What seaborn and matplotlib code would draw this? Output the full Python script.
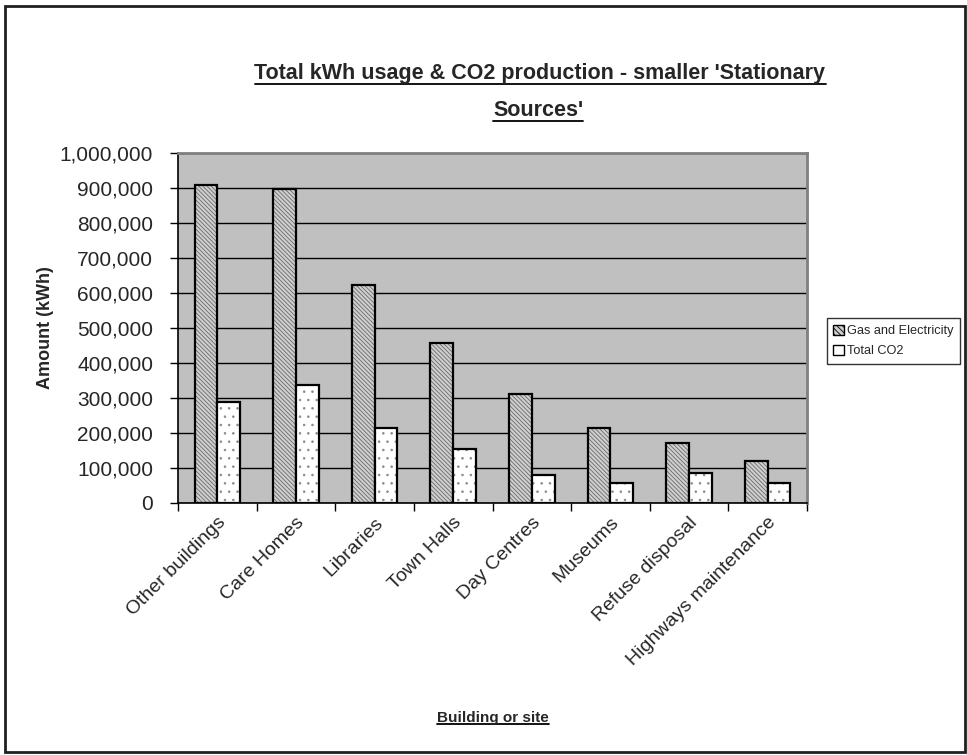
"""Total kWh usage & CO2 production for the smaller stationary sources."""
import matplotlib
matplotlib.use("Agg")
import matplotlib.pyplot as plt
import matplotlib.ticker as mticker
from matplotlib.lines import Line2D
from matplotlib.patches import Patch, Rectangle
import matplotlib.colors as mcolors
import pandas as pd
import seaborn as sns

# --- data ---
sites = [
    "Other buildings", "Care Homes", "Libraries", "Town Halls",
    "Day Centres", "Museums", "Refuse disposal", "Highways maintenance",
]
gas_and_electricity = [909000, 897000, 623000, 456000, 311000, 214000, 171000, 120000]
total_co2 = [290000, 337000, 215000, 155000, 80000, 57000, 86000, 57000]
series_names = ["Gas and Electricity", "Total CO2"]

df = pd.DataFrame({
    "site": sites * 2,
    "series": [series_names[0]] * len(sites) + [series_names[1]] * len(sites),
    "amount": gas_and_electricity + total_co2,
})

sns.set_theme(style="white")
plt.rcParams["font.family"] = ["Liberation Sans", "DejaVu Sans"]
plt.rcParams["hatch.linewidth"] = 0.6

W, H = 967, 755
fig = plt.figure(figsize=(W / 100, H / 100), dpi=100)
ax = fig.add_axes([178 / W, 1 - 503 / H, (807 - 178) / W, (503 - 153) / H])
ax.set_facecolor("#c0c0c0")

face = {series_names[0]: "#cfcfcf", series_names[1]: "#ffffff"}
sns.barplot(
    data=df, x="site", y="amount", hue="series", hue_order=series_names,
    order=sites, palette=face, width=0.58, saturation=1, legend=False,
    edgecolor="black", linewidth=1.6, ax=ax, zorder=3,
)

# hatch patterns: fine diagonal on gas/electric, sparse dots on CO2
hatches = ["\\\\\\\\\\\\\\\\", ".."]
hatch_cols = ["#6a6a6a", "#8a8a8a"]
for cont, h, hc in zip(ax.containers, hatches, hatch_cols):
    for p in cont:
        p.set_hatch(h)
        p._hatch_color = mcolors.to_rgba(hc)

# axes styling
ax.set_ylim(0, 1000000)
ax.set_xlim(-0.5, len(sites) - 0.5)
ax.yaxis.set_major_locator(mticker.MultipleLocator(100000))
ax.yaxis.set_major_formatter(mticker.StrMethodFormatter("{x:,.0f}"))
ax.grid(axis="y", color="black", linewidth=1.0, zorder=1)
ax.set_axisbelow(True)
ax.tick_params(axis="y", which="major", direction="out", length=6, width=1,
               color="black", labelsize=15, pad=12, left=True)
ax.set_xticks(range(len(sites)))
ax.set_xticks([i - 0.5 for i in range(len(sites) + 1)], minor=True)
ax.tick_params(axis="x", which="major", length=0, pad=8)
ax.tick_params(axis="x", which="minor", direction="out", length=6, width=1,
               color="black", bottom=True)
ax.set_xticklabels(sites, rotation=45, ha="right", va="top",
                   rotation_mode="anchor", fontsize=14)
ax.set_xlabel("")
ax.set_ylabel("")
for side in ["left", "bottom"]:
    ax.spines[side].set_color("black")
    ax.spines[side].set_linewidth(1.2)
for side in ["top", "right"]:
    ax.spines[side].set_color("#808080")
    ax.spines[side].set_linewidth(2)

# legend
handles = [
    Patch(facecolor=face[series_names[0]], edgecolor="black",
          hatch="\\\\\\\\\\\\", linewidth=1),
    Patch(facecolor=face[series_names[1]], edgecolor="black", linewidth=1),
]
leg = fig.legend(handles, series_names, loc="center left",
                 bbox_to_anchor=(827 / W, 1 - 341 / H), fontsize=9.2,
                 frameon=True, fancybox=False, edgecolor="black",
                 handlelength=0.8, handleheight=0.8, handletextpad=0.3,
                 borderpad=0.5, labelspacing=0.6, borderaxespad=0)
leg.get_frame().set_linewidth(1)

# titles and axis labels
t1 = fig.text(540 / W, 1 - 74 / H,
              "Total kWh usage & CO2 production - smaller 'Stationary",
              ha="center", va="center", fontsize=15.5, fontweight="bold")
t2 = fig.text(538 / W, 1 - 111 / H, "Sources'",
              ha="center", va="center", fontsize=15.5, fontweight="bold")
xl = fig.text(493 / W, 1 - 718 / H, "Building or site",
              ha="center", va="center", fontsize=11, fontweight="bold")
fig.text(45 / W, 1 - 328 / H, "Amount (kWh)", rotation=90,
         ha="center", va="center", fontsize=13, fontweight="bold")

# underline the title lines and the x label
fig.canvas.draw()
renderer = fig.canvas.get_renderer()
for t in [t1, t2, xl]:
    bb = t.get_window_extent(renderer)
    y = bb.y0 + 1
    fig.add_artist(Line2D([bb.x0 / W, bb.x1 / W], [y / H, y / H],
                          color="black", linewidth=1.3,
                          transform=fig.transFigure))

# outer frame round the whole chart
fig.add_artist(Rectangle((5 / W, 3 / H), (965 - 5) / W, (749 - 3) / H,
                         fill=False, edgecolor="#202020", linewidth=2,
                         transform=fig.transFigure))

fig.savefig("out.png", dpi=100, facecolor="white")
